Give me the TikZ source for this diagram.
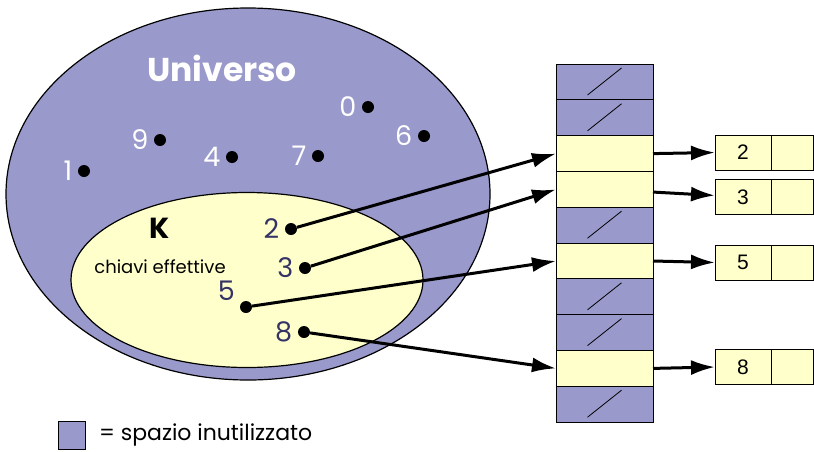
\documentclass[tikz,border=0pt]{standalone}
\usepackage{fontspec}
\setmainfont{Poppins}
\newfontfamily\cellfont{Liberation Sans}
\usetikzlibrary{positioning}
\usetikzlibrary{calc}
\usetikzlibrary{shapes.geometric, arrows.meta}
\definecolor{unused}{RGB}{153,153,204}
\definecolor{used}{RGB}{255,255,204}
\definecolor{keyblue}{RGB}{51,51,102}
\newcommand{\keyfont}{\fontsize{27}{27}\selectfont}
\tikzset{
	-{Latex[length=24pt,width=15pt]},
	node distance = 0pt and 0pt,
	set/.style = {ellipse, draw, line width=1.2pt, inner sep=0pt},
	point/.style = {circle, fill, inner sep=0pt, minimum size=12pt, node contents={}},
	ulabel/.style = {text=white, font=\keyfont},
	klabel/.style = {text=keyblue, font=\keyfont},
	wire/.style = {line width=3pt},
	slot/.style = {draw, line width=1pt, fill=used, minimum width=97pt, minimum height=35.8pt, inner sep=0pt, outer sep=0pt},
	free/.style = {slot, fill=unused},
	cell/.style = {draw, line width=1pt, fill=used, minimum height=35pt, inner sep=0pt, outer sep=0pt, font=\cellfont\fontsize{21}{21}\selectfont},
	val/.style = {cell, minimum width=56pt},
	nxt/.style = {cell, minimum width=42.5pt}
}

\begin{document}
\begin{tikzpicture}[x=1pt, y=-1pt, label distance=2pt]
	\useasboundingbox (0,0) rectangle (814,451);

	% insiemi
	\node (univ) [set, fill=unused, minimum width=484pt, minimum height=372pt] at (248,194) {};
	\node (keys) [set, fill=used, minimum width=352pt, minimum height=175pt] at (247,280) {};
	\node (utitle) [text=white, font=\bfseries\fontsize{33}{33}\selectfont] at (222,68) {Universo};
	\node (ktitle) [font=\bfseries\fontsize{29}{29}\selectfont] at (160,228) {K};
	\node (kdesc) [font=\fontsize{18}{18}\selectfont] at (160,267) {chiavi effettive};

	% chiavi non usate
	\node (u1) at (84,171) [label = {[ulabel]left:1}, point];
	\node (u9) at (160,140) [label = {[ulabel]left:9}, point];
	\node (u4) at (232,157) [label = {[ulabel]left:4}, point];
	\node (u7) at (318,156) [label = {[ulabel]left:7}, point];
	\node (u0) at (368,107) [label = {[ulabel]left:0}, point];
	\node (u6) at (424,136) [label = {[ulabel]left:6}, point];

	% chiavi effettive
	\node (k2) at (291,229) [label = {[klabel]left:2}, point];
	\node (k3) at (305,268) [label = {[klabel]left:3}, point];
	\node (k5) at (246,307) [label = {[klabel]160:5}, point];
	\node (k8) at (304,332) [label = {[klabel]left:8}, point];

	% tabella
	\node (r0) [free] at (604.5,82) {};
	\node (r1) [free, below = of r0] {};
	\node (r2) [slot, below = of r1] {};
	\node (r3) [slot, below = of r2] {};
	\node (r4) [free, below = of r3] {};
	\node (r5) [slot, below = of r4] {};
	\node (r6) [free, below = of r5] {};
	\node (r7) [free, below = of r6] {};
	\node (r8) [slot, below = of r7] {};
	\node (r9) [free, below = of r8] {};
	\foreach \r in {r0,r1,r4,r6,r7,r9}
		\draw[-, line width=0.8pt] ($(\r.center)+(-17,13)$) -- ($(\r.center)+(17,-14)$);

	% liste
	\node (v2) [val] at (743,152.5) {2};
	\node (n2) [nxt, right = of v2] {};
	\node (v3) [val] at (743,197) {3};
	\node (n3) [nxt, right = of v3] {};
	\node (v5) [val] at (743,262.5) {5};
	\node (n5) [nxt, right = of v5] {};
	\node (v8) [val] at (743,367) {8};
	\node (n8) [nxt, right = of v8] {};

	\path[wire] (k2) edge (r2.west);
	\path[wire] (k3) edge (r3.west);
	\path[wire] (k5) edge (r5.west);
	\path[wire] (k8) edge (r8.west);

	\path[wire] (r2.east) edge (v2.west);
	\path[wire] (r3) edge (v3);
	\path[wire] (r5.east) edge (v5.west);
	\path[wire] (r8.east) edge (v8.west);

	% legenda
	\node (legbox) [draw, line width=1pt, fill=unused, minimum width=27pt, minimum height=28pt, inner sep=0pt] at (71.5,435) {};
	\node (legtext) [right = 10pt of legbox, font=\fontsize{22}{22}\selectfont] {= spazio inutilizzato};
\end{tikzpicture}
\end{document}
